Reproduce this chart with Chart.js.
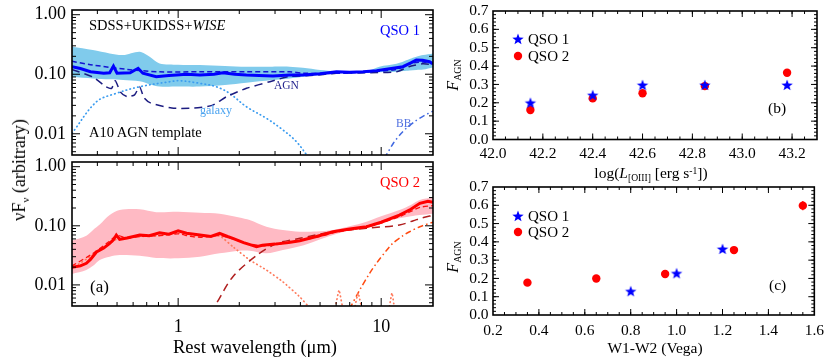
<!DOCTYPE html>
<html><head><meta charset="utf-8">
<script src="https://cdn.jsdelivr.net/npm/chart.js@4.4.1/dist/chart.umd.min.js"></script>
<style>
html,body{margin:0;padding:0;background:#fff}
body{width:831px;height:361px;position:relative;overflow:hidden;font-family:'Liberation Serif','Times New Roman',serif;color:#000}
canvas{position:absolute}
.t{position:absolute;white-space:nowrap;line-height:1;transform:translate(0,-50%)}
.c{transform:translate(-50%,-50%)}
.r{transform:translate(-50%,-50%) rotate(-90deg)}
sub.s{font-size:0.62em;vertical-align:-0.32em;line-height:0}
sup.s{font-size:0.62em;vertical-align:0.45em;line-height:0}
</style></head><body>
<canvas id="cA" width="450" height="190" style="left:0;top:-10px"></canvas>
<canvas id="cB" width="450" height="219" style="left:0;top:142px"></canvas>
<canvas id="cC" width="411" height="200" style="left:420px;top:-9px"></canvas>
<canvas id="cD" width="411" height="194" style="left:420px;top:167px"></canvas>

<div class="t" style="left:89px;top:25px;font-size:14.5px">SDSS+UKIDSS+<i>WISE</i></div>
<div class="t" style="left:380px;top:30px;font-size:14.5px;color:#0000ff">QSO 1</div>
<div class="t" style="left:274px;top:86px;font-size:11.5px;color:#23238e">AGN</div>
<div class="t" style="left:200px;top:110px;font-size:12px;color:#4aa3f0">galaxy</div>
<div class="t" style="left:396px;top:124px;font-size:11.5px;color:#4f6fe0">BB</div>
<div class="t" style="left:89px;top:132px;font-size:14.5px">A10 AGN template</div>
<div class="t" style="left:380px;top:182px;font-size:14.5px;color:#ff0000">QSO 2</div>
<div class="t" style="left:90px;top:286px;font-size:17px">(a)</div>
<div class="t c" style="left:255px;top:347px;font-size:18.5px">Rest wavelength (μm)</div>
<div class="t r" style="left:19px;top:170px;font-size:18px">νF<sub class="s">ν</sub> (arbitrary)</div>

<div class="t" style="left:528px;top:39px;font-size:15px">QSO 1</div>
<div class="t" style="left:528px;top:56px;font-size:15px">QSO 2</div>
<div class="t" style="left:768px;top:108px;font-size:15.5px">(b)</div>
<div class="t c" style="left:651px;top:173px;font-size:15.5px">log(<i>L</i><sub class="s">[OIII]</sub> [erg s<sup class="s">-1</sup>])</div>
<div class="t r" style="left:453px;top:75px;font-size:16px"><i>F</i><sub class="s">AGN</sub></div>

<div class="t" style="left:528px;top:216px;font-size:15px">QSO 1</div>
<div class="t" style="left:528px;top:232px;font-size:15px">QSO 2</div>
<div class="t" style="left:769px;top:285px;font-size:15.5px">(c)</div>
<div class="t c" style="left:655px;top:348px;font-size:15.5px">W1-W2 (Vega)</div>
<div class="t r" style="left:453px;top:257px;font-size:16px"><i>F</i><sub class="s">AGN</sub></div>

<script>
// ---------------- DATA ----------------
// Panel (a) top : QSO 1
const q1BandLam   = [0.30,0.38,0.46,0.535,0.647,0.724,0.81,1.0,1.28,1.7,2.17,2.9,3.54,4.12,5.0,6.0,7.3,8.8,9.8,11.9,12.8,13.8,14.9,16.1,18.0];
const q1BandUpper = [0.290,0.255,0.224,0.210,0.239,0.197,0.152,0.145,0.143,0.138,0.134,0.134,0.134,0.128,0.118,0.113,0.110,0.118,0.134,0.150,0.162,0.180,0.197,0.210,0.224];
const q1BandLower = [0.091,0.085,0.082,0.080,0.076,0.068,0.062,0.062,0.062,0.066,0.072,0.080,0.085,0.091,0.097,0.1036,0.105,0.106,0.108,0.110,0.113,0.116,0.118,0.120,0.130];
const q1SedLam  = [0.30,0.33,0.37,0.43,0.46,0.48,0.50,0.58,0.635,0.67,0.78,0.9,0.98,1.1,1.28,1.5,1.66,1.9,2.17,2.5,2.93,3.54,4.12,5.0,6.02,7.0,8.14,9.5,10.6,12.8,14.0,14.9,16.0,17.3,18.0];
const q1SedFlux = [0.134,0.125,0.110,0.104,0.106,0.137,0.104,0.106,0.126,0.104,0.091,0.095,0.097,0.100,0.097,0.100,0.106,0.100,0.097,0.095,0.093,0.097,0.097,0.102,0.110,0.108,0.110,0.115,0.121,0.134,0.155,0.173,0.172,0.162,0.150];
const q1ModelLam  = [0.30,0.38,0.556,0.81,1.28,2.17,3.54,4.12,6.0,8.8,11.9,13.8,16.0,18.0];
const q1ModelFlux = [0.165,0.143,0.121,0.110,0.110,0.110,0.110,0.104,0.1036,0.110,0.121,0.150,0.160,0.150];
const q1AgnLam  = [0.30,0.38,0.44,0.47,0.49,0.52,0.56,0.61,0.645,0.68,0.73,0.93,1.2,1.47,1.73,2.17,2.83,3.5,4.5,6.0,8.8,11.9,13.8,16.0,18.0];
const q1AgnFlux = [0.120,0.090,0.062,0.058,0.078,0.050,0.042,0.045,0.062,0.040,0.033,0.027,0.027,0.030,0.042,0.058,0.075,0.091,0.095,0.1036,0.106,0.110,0.135,0.150,0.145];
const q1GalLam  = [0.30,0.396,0.496,0.647,0.909,1.02,1.28,1.54,1.79,2.17,2.72,3.28,3.82,4.4,5.0,5.9,6.2,6.5,7.0];
const q1GalFlux = [0.0102,0.0345,0.0478,0.0617,0.0749,0.0778,0.0703,0.0617,0.0478,0.0284,0.0182,0.0116,0.0074,0.0040,0.0025,0.0030,0.0046,0.0030,0.0020];
const q1BBLam  = [9.5,10.6,11.5,12.5,13.5,14.6,16.2,18.0];
const q1BBFlux = [0.0025,0.0044,0.0070,0.0100,0.0130,0.0160,0.0200,0.0240];

// Panel (a) bottom : QSO 2
const q2BandLam   = [0.30,0.353,0.381,0.411,0.46,0.515,0.647,0.78,1.0,1.28,1.6,2.0,2.25,2.72,3.28,3.97,4.8,5.79,7.0,8.46,10.0,12.3,14.0,15.5,18.0];
const q2BandUpper = [0.056,0.068,0.085,0.105,0.152,0.185,0.190,0.170,0.173,0.166,0.160,0.138,0.125,0.0965,0.085,0.0794,0.080,0.0848,0.098,0.117,0.145,0.185,0.225,0.273,0.300];
const q2BandLower = [0.0153,0.0179,0.021,0.0264,0.030,0.032,0.031,0.0285,0.0282,0.030,0.0342,0.0379,0.0379,0.0342,0.0389,0.045,0.056,0.0698,0.085,0.103,0.118,0.134,0.145,0.152,0.160];
const q2SedLam  = [0.30,0.33,0.353,0.37,0.396,0.43,0.46,0.48,0.496,0.515,0.56,0.647,0.72,0.81,0.9,1.0,1.1,1.28,1.45,1.6,1.75,1.86,2.1,2.3,2.43,2.6,3.0,3.5,3.97,4.8,5.79,7.0,8.46,10.0,12.3,14.0,15.5,17.0,18.0];
const q2SedFlux = [0.0198,0.021,0.0232,0.027,0.036,0.042,0.0505,0.058,0.0698,0.059,0.062,0.0698,0.068,0.0764,0.072,0.082,0.075,0.0698,0.066,0.0747,0.066,0.0614,0.052,0.047,0.0443,0.047,0.049,0.052,0.0559,0.066,0.0794,0.088,0.0965,0.115,0.152,0.190,0.240,0.260,0.250];
const q2ModelLam  = [0.30,0.38,0.45,0.50,0.56,0.65,0.8,1.0,1.15,1.3,1.6,1.86,2.2,2.7,3.3,4.0,5.0,6.0,7.5,9.0,10.5,12.3,14.0,15.5,18.0];
const q2ModelFlux = [0.021,0.034,0.052,0.068,0.062,0.066,0.068,0.073,0.066,0.064,0.068,0.060,0.050,0.046,0.050,0.056,0.066,0.078,0.088,0.100,0.118,0.142,0.175,0.205,0.220];
const q2AgnLam  = [1.2,1.49,1.86,2.45,3.05,3.97,5.79,8.46,12.3,14.4,16.0,18.0];
const q2AgnFlux = [0.0015,0.0040,0.0138,0.032,0.050,0.0614,0.079,0.091,0.103,0.122,0.137,0.150];
const q2GalLam  = [0.30,0.40,0.50,0.65,0.80,1.0,1.3,1.6,1.86,2.25,2.72,3.28,3.97,4.45,5.0,5.8,6.2,6.6,7.3,7.7,8.1,8.6,10.6,11.3,11.9,13.0];
const q2GalFlux = [0.019,0.036,0.060,0.066,0.068,0.075,0.066,0.068,0.0443,0.0264,0.0179,0.0113,0.0063,0.0041,0.0030,0.0030,0.0082,0.0030,0.0035,0.0073,0.0035,0.0025,0.0025,0.0073,0.0025,0.0020];
const q2BBLam  = [6.5,7.0,7.84,8.8,9.48,10.6,11.4,12.8,13.8,15.5,18.0];
const q2BBFlux = [0.0025,0.0040,0.0082,0.016,0.0232,0.038,0.0505,0.068,0.0794,0.0965,0.115];

// Panel (b)
const lOIII       = [42.15,42.40,42.60,42.85,43.18];
const fagnQ1_b    = [0.200,0.242,0.297,0.297,0.297];
const fagnQ2_b    = [0.161,0.224,0.252,0.291,0.364];
// Panel (c)
const w12Q1       = [0.80,1.00,1.20];
const fagnQ1_c    = [0.130,0.228,0.361];
const w12Q2       = [0.35,0.65,0.95,1.25,1.55];
const fagnQ2_c    = [0.177,0.200,0.224,0.355,0.598];
const errQ2_c     = [0,0,0,0,0.025];

// Tick labels
const lamTickLabels  = [1,10];
const fluxTickLabels = [0.01,0.1,1];
const lTickLabels    = [42.0,42.2,42.4,42.6,42.8,43.0,43.2];
const wTickLabels    = [0.2,0.4,0.6,0.8,1.0,1.2,1.4,1.6];
const fTickLabels    = [0.0,0.1,0.2,0.3,0.4,0.5,0.6,0.7];

// ---------------- HELPERS ----------------
const FAMILY = "'Liberation Serif', 'Times New Roman', serif";
Chart.defaults.font.family = FAMILY;
Chart.defaults.color = '#000';

function logMinor(min,max){const out=[];for(let e=Math.floor(Math.log10(min));e<=Math.ceil(Math.log10(max));e++){for(let m=2;m<10;m++){const v=m*Math.pow(10,e);if(v>=min&&v<=max)out.push(v);}}return out;}
function linMinor(min,max,step){const out=[];for(let v=Math.ceil(min/step-1e-9)*step;v<=max+1e-9;v+=step)out.push(+v.toFixed(6));return out;}
const pts=(xs,ys)=>xs.map((x,i)=>({x,y:ys[i]}));

function makeStar(r,color){const s=Math.ceil(r*2+2);const c=document.createElement('canvas');c.width=c.height=s;const g=c.getContext('2d');g.fillStyle=color;g.beginPath();for(let i=0;i<10;i++){const rad=i%2?r*0.42:r;const a=-Math.PI/2+i*Math.PI/5;g.lineTo(s/2+rad*Math.cos(a),s/2+rad*Math.sin(a)+0.5);}g.closePath();g.fill();return c;}
const starImg=makeStar(6,'#0000ff');

const framePlugin={
  id:'frame',
  afterDatasetsDraw(chart,args,o){
    const ctx=chart.ctx,a=chart.chartArea,xs=chart.scales.x,ys=chart.scales.y;
    ctx.save();
    if(o.err){const meta=chart.getDatasetMeta(o.err.ds);ctx.strokeStyle=o.err.color;ctx.lineWidth=1.2;ctx.beginPath();
      meta.data.forEach((p,i)=>{const e=o.err.values[i];if(!e)return;const v=chart.data.datasets[o.err.ds].data[i].y;ctx.moveTo(p.x,ys.getPixelForValue(v-e));ctx.lineTo(p.x,ys.getPixelForValue(v+e));});ctx.stroke();}
    ctx.strokeStyle='#000';ctx.lineWidth=1;ctx.beginPath();
    const tx=(vals,len)=>vals.forEach(v=>{const p=xs.getPixelForValue(v);if(p<a.left+1||p>a.right-1)return;ctx.moveTo(p,a.bottom);ctx.lineTo(p,a.bottom-len);ctx.moveTo(p,a.top);ctx.lineTo(p,a.top+len);});
    const ty=(vals,len)=>vals.forEach(v=>{const p=ys.getPixelForValue(v);if(p<a.top+1||p>a.bottom-1)return;ctx.moveTo(a.left,p);ctx.lineTo(a.left+len,p);ctx.moveTo(a.right,p);ctx.lineTo(a.right-len,p);});
    tx(o.xMajor,o.majLen);tx(o.xMinor,o.minLen);ty(o.yMajor,o.majLen);ty(o.yMinor,o.minLen);
    ctx.stroke();
    ctx.lineWidth=1.6;ctx.strokeRect(a.left,a.top,a.right-a.left,a.bottom-a.top);
    if(o.legend){const lx=a.left+o.legend.dx;
      ctx.drawImage(starImg,lx-starImg.width/2,a.top+o.legend.dy1-starImg.height/2);
      ctx.fillStyle='#ff0000';ctx.beginPath();ctx.arc(lx,a.top+o.legend.dy2,4.2,0,Math.PI*2);ctx.fill();}
    ctx.restore();
  }
};

function line(lam,val,color,width,dash,order,extra){return Object.assign({data:pts(lam,val),borderColor:color,backgroundColor:color,borderWidth:width,borderDash:dash||[],pointRadius:0,fill:false,tension:0,order},extra||{});}
function band(lam,up,lo,color){return [
  {data:pts(lam,up),borderColor:'rgba(0,0,0,0)',borderWidth:0,pointRadius:0,fill:'+1',backgroundColor:color,order:20,tension:0.3},
  {data:pts(lam,lo),borderColor:'rgba(0,0,0,0)',borderWidth:0,pointRadius:0,fill:false,order:21,tension:0.3}];}

const yLogMin=0.0044,yLogMax=1.2,xLogMin=0.3,xLogMax=18;
function sedOptions(showX,pad){
  return {responsive:false,animation:false,devicePixelRatio:1,events:[],
    layout:{padding:pad},
    plugins:{legend:{display:false},tooltip:{enabled:false},
      frame:{xMajor:lamTickLabels,xMinor:logMinor(xLogMin,xLogMax),yMajor:fluxTickLabels,yMinor:logMinor(yLogMin,yLogMax),majLen:8,minLen:4}},
    scales:{
      x:{type:'logarithmic',min:xLogMin,max:xLogMax,display:showX,grid:{display:false,drawTicks:false},border:{display:false},
        afterBuildTicks:s=>{s.ticks=lamTickLabels.map(v=>({value:v}));},
        afterFit:s=>{if(showX)s.height=55;},
        ticks:{font:{family:FAMILY,size:18},padding:10,maxRotation:0,autoSkip:false,callback:v=>String(v)}},
      y:{type:'logarithmic',min:yLogMin,max:yLogMax,grid:{display:false,drawTicks:false},border:{display:false},
        afterBuildTicks:s=>{s.ticks=fluxTickLabels.map(v=>({value:v}));},
        afterFit:s=>{s.width=72;},
        ticks:{font:{family:FAMILY,size:18},padding:6,autoSkip:false,callback:v=>Number(v).toFixed(2)}}
    }};
}

const charts=[];
charts.push(new Chart(document.getElementById('cA'),{type:'line',plugins:[framePlugin],
  data:{datasets:[
    line(q1SedLam,q1SedFlux,'#0000ff',3,[],0),
    line(q1ModelLam,q1ModelFlux,'#1414d2',1.5,[5,3],1,{tension:0.3}),
    line(q1AgnLam,q1AgnFlux,'#1c1c80',1.5,[8,5],2,{tension:0.2}),
    line(q1GalLam,q1GalFlux,'#3a9cf0',1.7,[0.5,3.5],3,{borderCapStyle:'round',tension:0.35}),
    line(q1BBLam,q1BBFlux,'#4169e1',1.5,[6,3,1.5,3],4,{tension:0.3}),
    ...band(q1BandLam,q1BandUpper,q1BandLower,'rgb(128,203,236)')
  ]},
  options:sedOptions(false,{left:0,right:17,top:20,bottom:25})}));

charts.push(new Chart(document.getElementById('cB'),{type:'line',plugins:[framePlugin],
  data:{datasets:[
    line(q2SedLam,q2SedFlux,'#ff0000',3,[],0),
    line(q2ModelLam,q2ModelFlux,'#ff1010',1.3,[5,3],1,{tension:0.3}),
    line(q2AgnLam,q2AgnFlux,'#b01e1e',1.5,[8,5],2,{tension:0.3}),
    line(q2GalLam,q2GalFlux,'#ff7a5c',1.7,[0.5,3.5],3,{borderCapStyle:'round',tension:0.1}),
    line(q2BBLam,q2BBFlux,'#ff4a10',1.5,[6,3,1.5,3],4,{tension:0.3}),
    ...band(q2BandLam,q2BandUpper,q2BandLower,'rgb(255,186,196)')
  ]},
  options:sedOptions(true,{left:0,right:17,top:20,bottom:0})}));

function scatterOptions(xmin,xmax,xTicks,xMinorStep,xH,xPad,legend,err){
  return {responsive:false,animation:false,devicePixelRatio:1,events:[],
    layout:{padding:{left:0,right:14,top:20,bottom:0}},
    plugins:{legend:{display:false},tooltip:{enabled:false},
      frame:{xMajor:xTicks,xMinor:linMinor(xmin,xmax,xMinorStep),yMajor:fTickLabels,yMinor:linMinor(0,0.7,0.02),majLen:6,minLen:3,legend,err}},
    scales:{
      x:{type:'linear',min:xmin,max:xmax,grid:{display:false,drawTicks:false},border:{display:false},
        afterBuildTicks:s=>{s.ticks=xTicks.map(v=>({value:v}));},
        afterFit:s=>{s.height=xH;},
        ticks:{font:{family:FAMILY,size:15.5},padding:xPad,maxRotation:0,autoSkip:false,callback:v=>Number(v).toFixed(1)}},
      y:{type:'linear',min:0,max:0.7,grid:{display:false,drawTicks:false},border:{display:false},
        afterBuildTicks:s=>{s.ticks=fTickLabels.map(v=>({value:v}));},
        afterFit:s=>{s.width=73;},
        ticks:{font:{family:FAMILY,size:15.5},padding:4.5,autoSkip:false,callback:v=>Number(v).toFixed(1)}}
    }};
}
charts.push(new Chart(document.getElementById('cC'),{type:'scatter',plugins:[framePlugin],
  data:{datasets:[
    {data:pts(lOIII,fagnQ1_b),pointStyle:starImg,pointRadius:6},
    {data:pts(lOIII,fagnQ2_b),pointStyle:'circle',pointRadius:4.2,backgroundColor:'#ff0000',borderWidth:0}
  ]},
  options:scatterOptions(42.0,43.3,lTickLabels,0.05,51.5,5,{dx:25,dy1:28,dy2:45},null)}));
charts.push(new Chart(document.getElementById('cD'),{type:'scatter',plugins:[framePlugin],
  data:{datasets:[
    {data:pts(w12Q1,fagnQ1_c),pointStyle:starImg,pointRadius:6},
    {data:pts(w12Q2,fagnQ2_c),pointStyle:'circle',pointRadius:4.2,backgroundColor:'#ff0000',borderWidth:0}
  ]},
  options:scatterOptions(0.2,1.6,wTickLabels,0.05,46,7,{dx:25,dy1:29,dy2:45},{ds:1,values:errQ2_c,color:'#ff0000'})}));

if(document.fonts){
  Promise.all([document.fonts.load("18px 'Liberation Serif'"),document.fonts.load("italic 16px 'Liberation Serif'")])
    .then(()=>charts.forEach(c=>c.update('none'))).catch(()=>{});
}
</script>
</body></html>
